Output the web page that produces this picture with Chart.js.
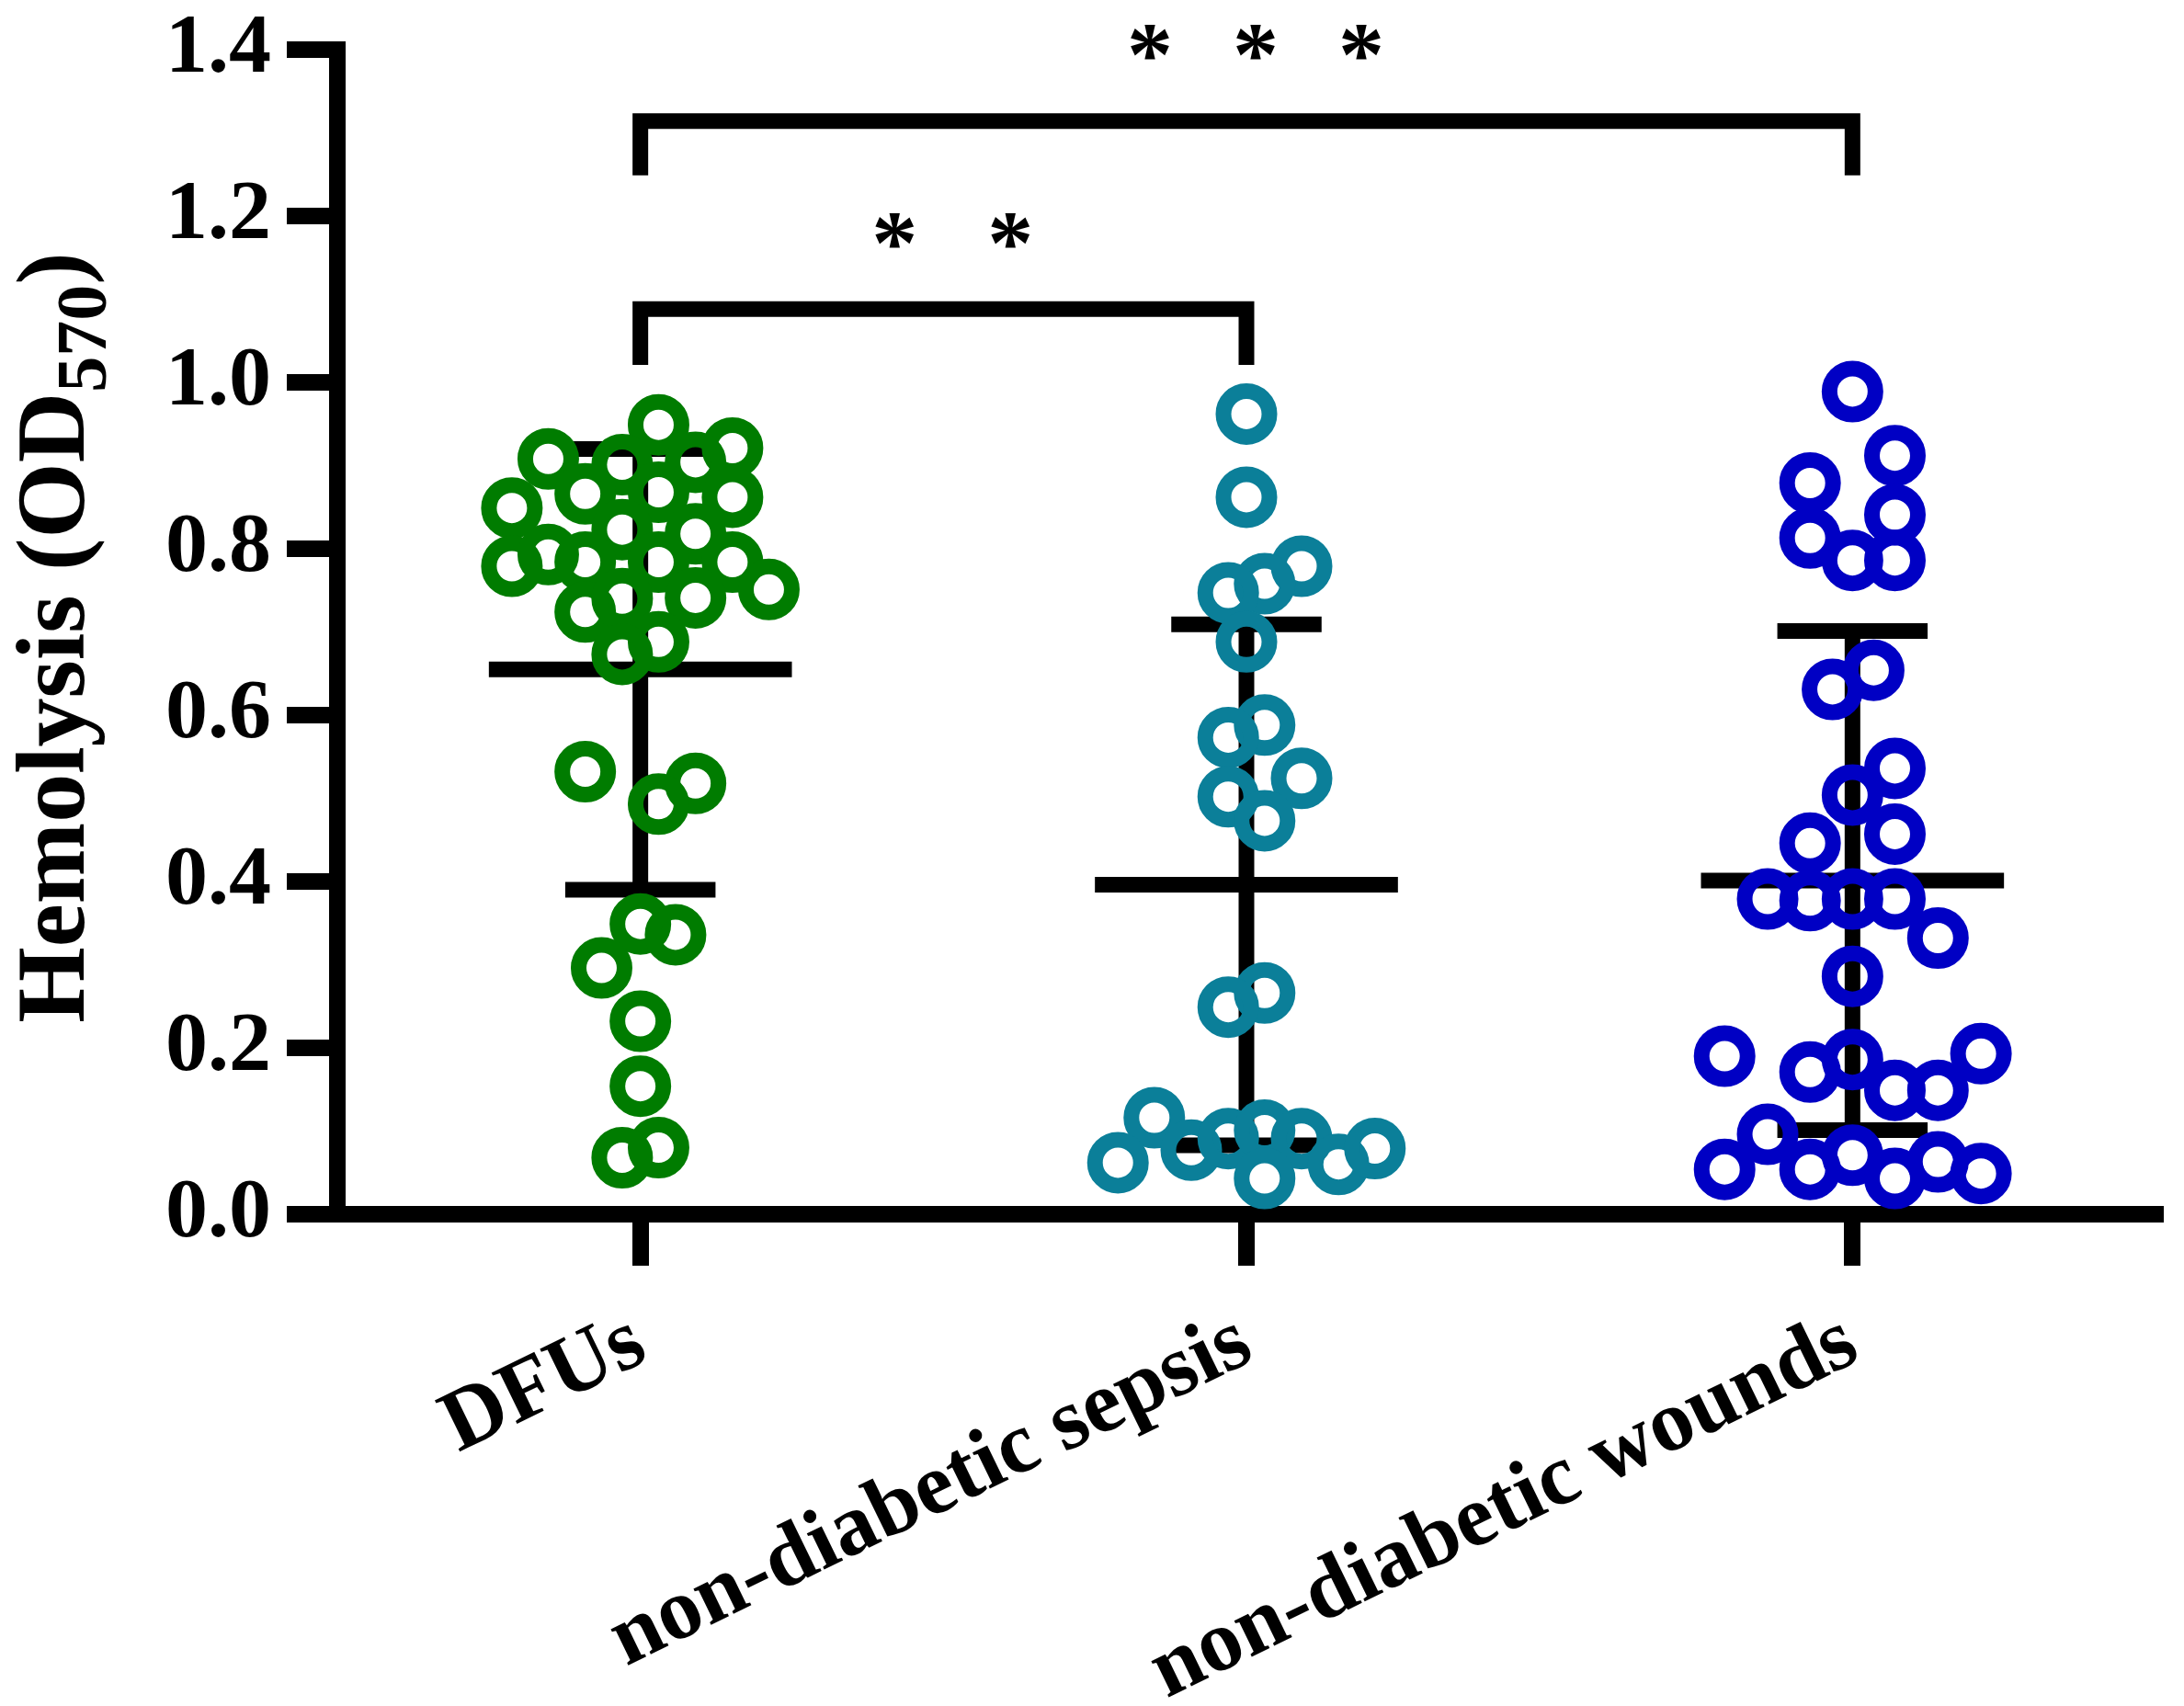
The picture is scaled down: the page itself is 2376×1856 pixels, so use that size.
<!DOCTYPE html>
<html>
<head>
<meta charset="utf-8">
<script src="https://cdn.jsdelivr.net/npm/chart.js@4.4.1/dist/chart.umd.min.js"></script>
<style>
  html, body { margin: 0; padding: 0; background: #fff; }
  #wrap { width: 2376px; height: 1856px; }
</style>
</head>
<body>
<div id="wrap"><canvas id="hemoChart" width="2376" height="1856"></canvas></div>
<script>
// Grupos
const groups = ["DFUs", "non-diabetic sepsis", "non-diabetic wounds"];
const groupColors = ["#007C00", "#0B7F99", "#0000C4"];

// Valores (OD570) e deslocamento horizontal de cada ponto na coluna
const dfuValues = [0.949, 0.921, 0.908, 0.901, 0.904, 0.866, 0.868, 0.862, 0.849, 0.823, 0.818,
  0.779, 0.793, 0.784, 0.784, 0.784, 0.751, 0.724, 0.740, 0.741, 0.688, 0.673,
  0.532, 0.518, 0.493, 0.349, 0.336, 0.296, 0.232, 0.154, 0.080, 0.068];
const dfuOffsets = [0.030, 0.152, -0.152, -0.030, 0.091, -0.091, 0.030, 0.152, -0.212, -0.030, 0.091,
  -0.212, -0.152, -0.091, 0.030, 0.152, 0.212, -0.091, -0.030, 0.091, 0.030, -0.030,
  -0.091, 0.091, 0.030, 0, 0.058, -0.064, 0, 0, 0.030, -0.030];

const sepsisValues = [0.962, 0.862, 0.779, 0.758, 0.747, 0.688, 0.588, 0.573, 0.524, 0.502, 0.473,
  0.266, 0.249, 0.116, 0.062, 0.077, 0.091, 0.101, 0.091, 0.060, 0.079, 0.043];
const sepsisOffsets = [0, 0, 0.091, 0.030, -0.030, 0, 0.030, -0.030, 0.091, -0.030, 0.030,
  0.030, -0.030, -0.152, -0.212, -0.091, -0.030, 0.030, 0.091, 0.152, 0.212, 0.030];

const woundValues = [0.989, 0.912, 0.879, 0.841, 0.813, 0.786, 0.786, 0.654, 0.631, 0.536, 0.504,
  0.457, 0.446, 0.379, 0.377, 0.379, 0.379, 0.332, 0.286, 0.190, 0.171, 0.186,
  0.149, 0.149, 0.193, 0.096, 0.054, 0.054, 0.071, 0.043, 0.063, 0.049];
const woundOffsets = [0, 0.070, -0.070, 0.070, -0.070, 0, 0.070, 0.035, -0.033, 0.070, 0,
  0.070, -0.070, -0.140, -0.070, 0, 0.070, 0.141, 0, -0.211, -0.070, 0,
  0.070, 0.141, 0.212, -0.140, -0.211, -0.070, 0, 0.070, 0.141, 0.212];

// Media e desvio padrao de cada grupo
const means = [0.655, 0.396, 0.401];
const sds = [0.265, 0.313, 0.300];

const yTicks = [0, 0.2, 0.4, 0.6, 0.8, 1.0, 1.2, 1.4];

// Comparacoes (colchetes e asteriscos)
const compFrom = [0, 0];
const compTo = [1, 2];
const compTop = [1.088, 1.314];
const compLeg = [1.021, 1.249];
const compStars = [2, 3];
const compStarY = [1.183, 1.410];

const fontFamily = "'Liberation Serif', 'Times New Roman', serif";

const values = [dfuValues, sepsisValues, woundValues];
const offsets = [dfuOffsets, sepsisOffsets, woundOffsets];

// Pontos
const pointSets = values.map((vals, g) => ({
  type: 'scatter',
  label: groups[g],
  data: vals.map((v, i) => ({ x: g + offsets[g][i], y: v })),
  pointStyle: 'circle',
  pointRadius: 25,
  pointHoverRadius: 25,
  borderWidth: 17,
  borderColor: groupColors[g],
  backgroundColor: 'rgba(0,0,0,0)',
  clip: false,
  order: 0
}));

// Barras de erro (media +- DP)
const meanHalf = 0.25;
const capHalf = 0.124;
const errorData = [];
means.forEach((m, i) => {
  const lo = m - sds[i], hi = m + sds[i];
  errorData.push({ x: i - meanHalf, y: m }, { x: i + meanHalf, y: m }, { x: i, y: null });
  errorData.push({ x: i, y: lo }, { x: i, y: hi }, { x: i, y: null });
  errorData.push({ x: i - capHalf, y: hi }, { x: i + capHalf, y: hi }, { x: i, y: null });
  errorData.push({ x: i - capHalf, y: lo }, { x: i + capHalf, y: lo }, { x: i, y: null });
});

// Colchetes
const bracketData = [];
compFrom.forEach((f, i) => {
  bracketData.push({ x: f, y: compLeg[i] }, { x: f, y: compTop[i] },
    { x: compTo[i], y: compTop[i] }, { x: compTo[i], y: compLeg[i] }, { x: f, y: null });
});

const lineSet = (data) => ({
  type: 'line',
  data: data,
  borderColor: '#000',
  borderWidth: 17,
  borderJoinStyle: 'miter',
  borderCapStyle: 'butt',
  pointRadius: 0,
  pointHoverRadius: 0,
  spanGaps: false,
  tension: 0,
  fill: false,
  clip: false,
  order: 1
});

// Asteriscos e titulo do eixo y
const starGap = [126, 115];
const annotations = {
  id: 'annotations',
  afterDatasetsDraw(chart) {
    const ctx = chart.ctx;
    const xs = chart.scales.x, ys = chart.scales.y;
    const size = 100;
    ctx.save();
    ctx.fillStyle = '#000';
    ctx.font = `bold ${size}px ${fontFamily}`;
    ctx.textAlign = 'center';
    ctx.textBaseline = 'alphabetic';
    compFrom.forEach((f, i) => {
      const cx = xs.getPixelForValue((f + compTo[i]) / 2) + 10;
      const cy = ys.getPixelForValue(compStarY[i]) + size * 0.47;
      const n = compStars[i];
      for (let k = 0; k < n; k++) {
        ctx.fillText('*', cx + (k - (n - 1) / 2) * starGap[i], cy);
      }
    });
    ctx.restore();

    // Hemolysis (OD570) com subscrito
    const parts = [
      { text: 'Hemolysis (OD', size: 106, shift: 0 },
      { text: '570', size: 78, shift: 24 },
      { text: ')', size: 106, shift: 0 }
    ];
    ctx.save();
    const midY = (chart.chartArea.top + chart.chartArea.bottom) / 2 + 6;
    ctx.translate(91, midY);
    ctx.rotate(-Math.PI / 2);
    ctx.fillStyle = '#000';
    ctx.textAlign = 'left';
    ctx.textBaseline = 'alphabetic';
    let total = 0;
    parts.forEach(p => {
      ctx.font = `bold ${p.size}px ${fontFamily}`;
      p.w = ctx.measureText(p.text).width;
      total += p.w;
    });
    let x = -total / 2;
    parts.forEach(p => {
      ctx.font = `bold ${p.size}px ${fontFamily}`;
      ctx.fillText(p.text, x, p.shift);
      x += p.w;
    });
    ctx.restore();
  }
};

const ctx = document.getElementById('hemoChart').getContext('2d');

new Chart(ctx, {
  type: 'scatter',
  data: {
    datasets: [...pointSets, lineSet(errorData), lineSet(bracketData)]
  },
  options: {
    responsive: false,
    devicePixelRatio: 1,
    animation: false,
    events: [],
    layout: { autoPadding: false, padding: { top: 54, right: 31, left: 0, bottom: 0 } },
    plugins: {
      legend: { display: false },
      tooltip: { enabled: false },
      title: { display: false }
    },
    scales: {
      x: {
        type: 'linear',
        min: -0.5,
        max: 2.5,
        afterBuildTicks: s => { s.ticks = groups.map((g, i) => ({ value: i })); },
        afterFit: s => {
          s.height = 1856 - 1321;
          s.paddingLeft = 0;
          s.paddingRight = 0;
        },
        ticks: {
          callback: v => groups[v],
          color: '#000',
          font: { family: fontFamily, size: 95, weight: 'bold' },
          minRotation: 26,
          maxRotation: 26,
          autoSkip: false,
          padding: 28
        },
        grid: { drawOnChartArea: false, drawTicks: true, tickLength: 56, lineWidth: 18, color: '#000' },
        border: { display: true, width: 18, color: '#000' }
      },
      y: {
        type: 'linear',
        min: 0,
        max: 1.4,
        afterBuildTicks: s => { s.ticks = yTicks.map(v => ({ value: v })); },
        afterFit: s => {
          s.width = 367;
          s.paddingTop = 0;
          s.paddingBottom = 0;
        },
        ticks: {
          callback: v => Number(v).toFixed(1),
          color: '#000',
          font: { family: fontFamily, size: 92, weight: 'bold' },
          padding: 17
        },
        grid: { drawOnChartArea: false, drawTicks: true, tickLength: 55, lineWidth: 18, color: '#000' },
        border: { display: true, width: 18, color: '#000' }
      }
    }
  },
  plugins: [annotations]
});
</script>
</body>
</html>
